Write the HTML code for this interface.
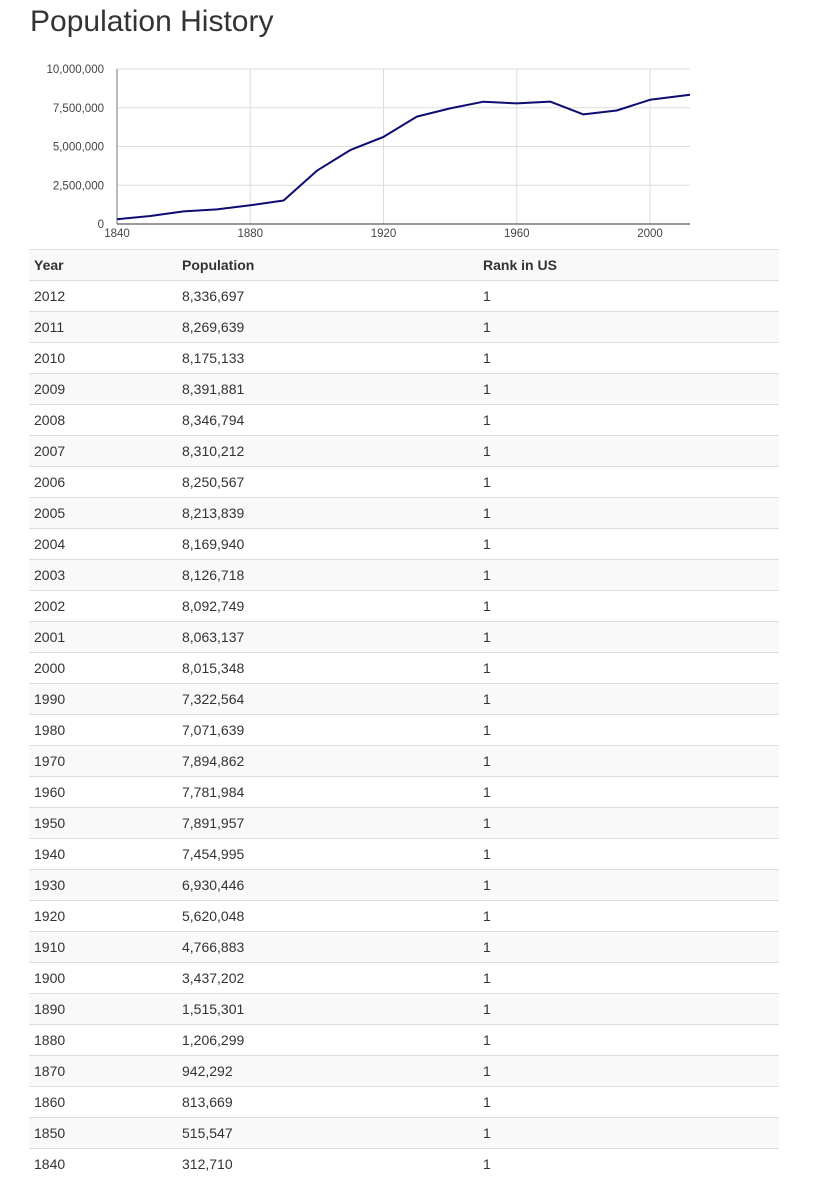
<!DOCTYPE html>
<html><head><meta charset="utf-8">
<style>
body{margin:0;background:#fff;font-family:"Liberation Sans",Arial,sans-serif;color:#333;width:814px;height:1185px;overflow:hidden;position:relative}
h1{position:absolute;left:30px;top:5px;margin:0;font-weight:400;font-size:30px;color:#333}
#chart{position:absolute;left:0;top:55px}
table{position:absolute;left:29px;top:249px;width:750px;border-collapse:collapse;font-size:14px}
td,th{height:30px;padding:0 5px;text-align:left;border-top:1px solid #ddd;vertical-align:middle}
th{font-weight:bold;background:#f9f9f9;border-bottom:1px solid #ddd}
tbody tr:nth-child(even){background:#f9f9f9}
th:nth-child(1){width:138px}th:nth-child(2){width:291px}
</style></head><body>
<h1>Population History</h1>
<svg id="chart" width="720" height="190"></svg>
<table>
<thead><tr><th>Year</th><th>Population</th><th>Rank in US</th></tr></thead>
<tbody id="tb"></tbody></table>
<script>
const years=[2012,2011,2010,2009,2008,2007,2006,2005,2004,2003,2002,2001,2000,1990,1980,1970,1960,1950,1940,1930,1920,1910,1900,1890,1880,1870,1860,1850,1840];
const pops=[8336697,8269639,8175133,8391881,8346794,8310212,8250567,8213839,8169940,8126718,8092749,8063137,8015348,7322564,7071639,7894862,7781984,7891957,7454995,6930446,5620048,4766883,3437202,1515301,1206299,942292,813669,515547,312710];
const ranks=[1,1,1,1,1,1,1,1,1,1,1,1,1,1,1,1,1,1,1,1,1,1,1,1,1,1,1,1,1];
const chartYears=[2012,2000,1990,1980,1970,1960,1950,1940,1930,1920,1910,1900,1890,1880,1870,1860,1850,1840];
const chartPops=[8336697,8015348,7322564,7071639,7894862,7781984,7891957,7454995,6930446,5620048,4766883,3437202,1515301,1206299,942292,813669,515547,312710];
const yTicks=[0,2500000,5000000,7500000,10000000];
const xTicks=[1840,1880,1920,1960,2000];
const tb=document.getElementById('tb');
years.forEach((y,i)=>{
 const tr=document.createElement('tr');
 
 
 tr.innerHTML='<td>'+y+'</td><td>'+pops[i].toLocaleString('en-US')+'</td><td>'+ranks[i]+'</td>';
 tb.appendChild(tr);
});
const svg=document.getElementById('chart');const NS='http://www.w3.org/2000/svg';
const X0=117,X1=690,Y0=169,Y1=14;
const xs=v=>X0+(v-1840)/(2012-1840)*(X1-X0);
const ys=v=>Y0-(v/10000000)*(Y0-Y1);
function el(t,a,txt){const e=document.createElementNS(NS,t);for(const k in a)e.setAttribute(k,a[k]);if(txt!=null)e.textContent=txt;svg.appendChild(e);return e;}
yTicks.forEach(v=>{
 const g=el('line',{x1:X0,x2:X1,y1:ys(v),y2:ys(v),stroke:'#ddd','stroke-width':1});
 
 
 const t=el('text',{x:104,y:ys(v)+4,'text-anchor':'end','font-size':11.5,fill:'#444','font-family':'Liberation Sans'},v.toLocaleString('en-US'));
 
 
});
xTicks.forEach(v=>{
 const g=el('line',{x1:xs(v),x2:xs(v),y1:Y1,y2:Y0,stroke:'#ddd','stroke-width':1});
 
 
 const t=el('text',{x:xs(v),y:Y0+13,'text-anchor':'middle','font-size':11.5,fill:'#444','font-family':'Liberation Sans'},v);
 
 
});
const ax=el('line',{x1:X0,x2:X0,y1:Y1,y2:Y0,stroke:'#777','stroke-width':1});


const bx=el('line',{x1:X0,x2:X1,y1:Y0,y2:Y0,stroke:'#333','stroke-width':1});


const pts=chartYears.map((y,i)=>xs(y).toFixed(1)+','+ys(chartPops[i]).toFixed(1)).join(' ');
const ln=el('polyline',{points:pts,fill:'none',stroke:'#0c0c72','stroke-width':2,'stroke-linejoin':'round'});


</script>
</body></html>
